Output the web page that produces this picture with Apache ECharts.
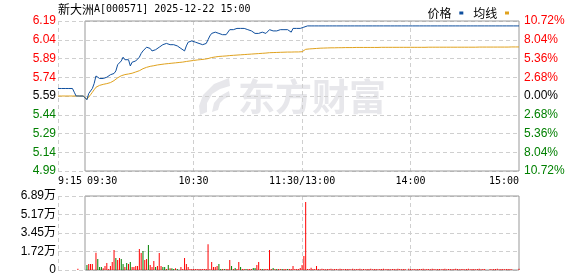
<!DOCTYPE html>
<html>
<head>
<meta charset="utf-8">
<script src="https://cdn.jsdelivr.net/npm/echarts@6/dist/echarts.min.js"></script>
<style>
html,body{margin:0;padding:0;background:#fff;}
#c{width:578px;height:276px;}
</style>
</head>
<body>
<div id="c"></div>
<script>
// ---------------- data ----------------
const titleName = '新大洲';
const titleRest = 'A[000571] 2025-12-22 15:00';
const prevClose = 5.59;

// minute price, index 0 = 9:15 ... 15 = 9:30 ... 135 = 11:30/13:00 ... 255 = 15:00
const prices = [
  5.65,5.65,5.65,5.65,5.65,5.65,5.65,5.65,5.65,5.62,
  5.59,5.59,5.59,5.59,5.59,5.59,5.56,5.61,5.62,5.65,
  5.69,5.75,5.74,5.73,5.72,5.73,5.74,5.74,5.75,5.76,
  5.75,5.77,5.79,5.84,5.83,5.87,5.90,5.88,5.89,5.88,
  5.83,5.86,5.87,5.87,5.88,5.90,5.93,5.95,5.96,5.98,
  5.98,5.97,5.95,5.96,5.96,5.97,5.98,5.99,6.00,6.01,
  6.01,6.00,6.00,6.01,6.00,6.00,5.99,5.98,5.97,5.96,
  5.95,5.99,6.02,6.03,6.03,6.02,6.02,6.03,6.01,6.00,
  6.00,6.01,6.01,6.04,6.07,6.09,6.09,6.10,6.11,6.09,
  6.09,6.08,6.07,6.08,6.09,6.12,6.12,6.12,6.13,6.13,
  6.14,6.13,6.13,6.13,6.13,6.12,6.12,6.11,6.10,6.09,
  6.08,6.09,6.10,6.10,6.10,6.09,6.10,6.12,6.13,6.11,
  6.11,6.11,6.12,6.12,6.13,6.12,6.11,6.12,6.12,6.10,
  6.13,6.13,6.13,6.13,6.13,6.13,6.14,6.15,6.15,6.15,
  6.15,6.15,6.15,6.15,6.15,6.15,6.15,6.15,6.15,6.15,
  6.15,6.15,6.15,6.15,6.15,6.15,6.15,6.15,6.15,6.15,
  6.15,6.15,6.15,6.15,6.15,6.15,6.15,6.15,6.15,6.15,
  6.15,6.15,6.15,6.15,6.15,6.15,6.15,6.15,6.15,6.15,
  6.15,6.15,6.15,6.15,6.15,6.15,6.15,6.15,6.15,6.15,
  6.15,6.15,6.15,6.15,6.15,6.15,6.15,6.15,6.15,6.15,
  6.15,6.15,6.15,6.15,6.15,6.15,6.15,6.15,6.15,6.15,
  6.15,6.15,6.15,6.15,6.15,6.15,6.15,6.15,6.15,6.15,
  6.15,6.15,6.15,6.15,6.15,6.15,6.15,6.15,6.15,6.15,
  6.15,6.15,6.15,6.15,6.15,6.15,6.15,6.15,6.15,6.15,
  6.15,6.15,6.15,6.15,6.15,6.15,6.15,6.15,6.15,6.15,
  6.15,6.15,6.15,6.15,6.15,6.15
];

const avgPrices = [
  5.59,5.59,5.59,5.59,5.59,5.59,5.59,5.59,5.59,5.59,
  5.59,5.59,5.59,5.59,5.59,5.59,5.565,5.58,5.60,5.62,
  5.64,5.66,5.67,5.675,5.68,5.683,5.686,5.689,5.692,5.697,
  5.705,5.713,5.72,5.735,5.745,5.752,5.757,5.761,5.764,5.766,
  5.768,5.772,5.777,5.782,5.786,5.792,5.80,5.808,5.814,5.819,
  5.824,5.827,5.83,5.832,5.835,5.838,5.84,5.842,5.844,5.846,
  5.848,5.849,5.851,5.852,5.854,5.855,5.857,5.858,5.859,5.861,
  5.863,5.866,5.868,5.87,5.872,5.874,5.876,5.878,5.879,5.881,
  5.882,5.884,5.885,5.889,5.893,5.897,5.90,5.902,5.904,5.906,
  5.907,5.908,5.909,5.91,5.911,5.913,5.914,5.915,5.916,5.917,
  5.918,5.919,5.92,5.921,5.922,5.923,5.924,5.925,5.926,5.927,
  5.928,5.929,5.93,5.931,5.932,5.933,5.934,5.936,5.937,5.937,
  5.938,5.938,5.939,5.939,5.94,5.94,5.941,5.941,5.941,5.941,
  5.942,5.942,5.942,5.942,5.943,5.944,5.95,5.963,5.965,5.966,
  5.967,5.968,5.969,5.970,5.971,5.972,5.973,5.973,5.974,5.974,
  5.974,5.975,5.975,5.975,5.976,5.976,5.976,5.976,5.977,5.977,
  5.977,5.977,5.977,5.977,5.978,5.978,5.978,5.978,5.978,5.978,
  5.978,5.978,5.978,5.978,5.978,5.978,5.978,5.978,5.979,5.979,
  5.979,5.979,5.979,5.979,5.979,5.979,5.979,5.979,5.979,5.979,
  5.979,5.979,5.979,5.979,5.979,5.979,5.979,5.979,5.979,5.979,
  5.979,5.979,5.979,5.979,5.979,5.980,5.980,5.980,5.980,5.980,
  5.980,5.980,5.980,5.980,5.980,5.980,5.980,5.980,5.980,5.980,
  5.980,5.980,5.980,5.980,5.980,5.980,5.980,5.980,5.980,5.980,
  5.980,5.980,5.981,5.981,5.981,5.981,5.981,5.981,5.981,5.981,
  5.981,5.981,5.981,5.981,5.981,5.981,5.981,5.981,5.981,5.981,
  5.982,5.982,5.982,5.982,5.982,5.982
];

// minute volume (shares)
const volumes = [
  0,0,0,0,0,0,0,0,0,0,
  0,1200,0,0,0,0,4650,5600,5600,5600,
  0,16100,10200,2800,2800,1600,3700,6500,930,3700,
  7400,18600,11200,9300,11200,10200,5600,2800,6500,5600,
  7400,2800,2800,3700,3700,19600,15800,17700,9300,10200,
  23300,4650,2800,8400,2800,3700,15800,3700,2800,2800,
  930,4650,1600,1600,930,1600,930,0,2800,930,
  11200,5600,2800,930,930,930,930,930,930,930,
  930,930,930,24000,800,7400,2800,2800,3700,5600,
  900,900,900,900,900,9300,3700,900,1900,900,
  7400,2800,900,900,900,900,900,900,1900,1900,
  4650,7400,900,900,900,900,900,18600,900,1900,
  900,900,900,900,900,900,900,900,900,900,
  3700,900,900,900,1900,4650,13000,63300,900,900,
  2200,900,900,3700,1000,800,1100,900,700,1000,
  900,1200,800,1000,900,700,1100,900,800,1000,
  1000,900,700,1100,800,900,1000,1200,800,900,
  700,1000,900,1100,800,1000,900,700,1000,900,
  1100,800,900,1000,700,900,1000,800,1100,900,
  800,1000,900,0,1100,900,800,1000,700,900,
  1000,900,1200,800,900,1000,700,1100,900,800,
  1000,900,800,1000,1100,700,900,1000,800,900,
  1100,900,800,1000,900,700,1000,1200,800,900,
  1000,800,900,1100,700,900,1000,0,0,900,
  800,1000,900,1100,700,900,1000,800,900,1000,
  900,800,0,0,0,1200
];
// minutes whose volume bar is green (down)
const greenBars = [16,22,23,24,32,35,36,38,40,47,50,54,58,59,61,63,64,66,89,90,92,96,98,101,104,108,109,113,119,121,124,127];

// tick labels
const priceLabels = ['4.99','5.14','5.29','5.44','5.59','5.74','5.89','6.04','6.19'];
const pctLabels = ['10.72%','8.04%','5.36%','2.68%','0.00%','2.68%','5.36%','8.04%','10.72%'];
const volLabels = ['0','1.72万','3.45万','5.17万','6.89万'];
const timeTickIdx = [0, 15, 75, 135, 195, 255];
const timeTickText = ['9:15', '09:30', '10:30', '11:30/13:00', '14:00', '15:00'];
const legendNames = ['价格', '均线'];

// ---------------- build ----------------
const categories = [];
for (let i = 0; i < 256; i++) {
  let h, m;
  if (i <= 15) { h = 9; m = 15 + i; }
  else if (i <= 135) { const t = 9 * 60 + 30 + (i - 15); h = Math.floor(t / 60); m = t % 60; }
  else { const t = 13 * 60 + (i - 135); h = Math.floor(t / 60); m = t % 60; }
  categories.push(h + ':' + (m < 10 ? '0' + m : m));
}
const toPct = p => (p / prevClose - 1) * 100;
const RED = '#ff0000', GREEN = '#008000', BLACK = '#000000';
const PMAX = 10.72, PINT = 2.68;
const VMAX = 68900, VINT = 17225;
const dash = { color: '#cfcfcf', type: [4, 3], width: 1 };
const labelFont = "'Liberation Sans', 'Noto Sans CJK SC', sans-serif";
const monoFont = "'DejaVu Sans Mono', monospace";
const timeLabel = (idx) => { const k = timeTickIdx.indexOf(idx); return k >= 0 ? timeTickText[k] : ''; };
const pctColor = (v) => { v = parseFloat(v); return v > 0.01 ? RED : (v < -0.01 ? GREEN : BLACK); };
const pIdx = (v) => Math.round((parseFloat(v) + PMAX) / PINT);

const L = 58, R = 59, LB = 85;

const catAxis = (grid, extra) => Object.assign({
  type: 'category', gridIndex: grid, position: 'bottom', data: categories, boundaryGap: false,
  axisLine: { show: false }, axisTick: { show: false },
  axisLabel: { show: false }, splitLine: { show: false }
}, extra);
const hiddenAxis = (grid) => ({ type: 'value', gridIndex: grid, show: false, min: 0, max: 1, splitLine: { show: false } });

const labelStyle = (idxList, align, pad) => ({
  show: true, interval: (i) => idxList.indexOf(i) >= 0, align: align,
  padding: pad || 0,
  formatter: (v, i) => timeLabel(i), fontFamily: monoFont, fontSize: 10, color: BLACK, margin: 5
});

const volData = volumes.map((v, i) => ({
  value: v === 0 ? '-' : v,
  itemStyle: { color: greenBars.indexOf(i) >= 0 ? GREEN : RED }
}));

const option = {
  animation: false,
  backgroundColor: '#ffffff',
  title: {
    left: L, top: 1, padding: 0,
    text: '{c|' + titleName + '}{m|' + titleRest + '}',
    textStyle: {
      rich: {
        c: { fontFamily: "'Noto Sans CJK SC'", fontSize: 12, fontWeight: 'normal', color: BLACK, lineHeight: 16 },
        m: { fontFamily: monoFont, fontSize: 10, fontWeight: 'normal', color: BLACK, lineHeight: 16 }
      }
    }
  },
  legend: {
    data: legendNames, right: 64, top: 2, align: 'right', icon: 'rect',
    itemWidth: 4, itemHeight: 3, itemGap: 10,
    formatter: (n) => n + ' ',
    textStyle: { fontFamily: "'Noto Sans CJK SC'", fontSize: 12, color: BLACK }
  },
  graphic: [
    { type: 'text', z: -1, silent: true, style: { x: 238, y: 97, text: '东方财富', fill: '#e7e7eb',
      font: "bold 37px 'Noto Sans CJK SC'", verticalAlign: 'middle' } },
    { type: 'polygon', z: -1, silent: true,
      shape: { points: [[229,78],[214,84],[203,95],[199,106],[200,115],[207,112],[207,103],[212,94],[220,89],[230,86]] },
      style: { fill: '#e7e7eb' } },
    { type: 'polygon', z: -1, silent: true,
      shape: { points: [[229,91],[220,96],[214,103],[212,112],[218,110],[220,103],[224,99],[230,96]] },
      style: { fill: '#e7e7eb' } }
  ],
  grid: [
    { left: L, right: R, top: 21, height: 150 },
    { left: LB, right: R, top: 21, height: 150, show: true, borderColor: '#999999', borderWidth: 1, backgroundColor: 'transparent', z: 1 },
    { left: L, right: R, top: 196, height: 74 },
    { left: LB, right: R, top: 196, height: 74, show: true, borderColor: '#999999', borderWidth: 1, backgroundColor: 'transparent', z: 1 }
  ],
  xAxis: [
    catAxis(0, { splitLine: { show: true, interval: (i) => [0, 75, 135, 195].indexOf(i) >= 0, lineStyle: dash },
      axisLabel: labelStyle([0], 'left') }),
    catAxis(0, { axisLabel: labelStyle([75, 135, 195], 'center') }),
    catAxis(0, { axisLabel: labelStyle([255], 'right') }),
    hiddenAxis(1),
    catAxis(2, { splitLine: { show: true, interval: (i) => [0, 75, 135, 195].indexOf(i) >= 0, lineStyle: dash } }),
    hiddenAxis(3),
    catAxis(0, { axisLabel: labelStyle([15], 'left', [0, 0, 0, 2]) })
  ],
  yAxis: [
    { type: 'value', gridIndex: 0, position: 'left', min: -PMAX, max: PMAX, interval: PINT,
      axisLine: { show: false }, axisTick: { show: false },
      splitLine: { show: true, lineStyle: dash },
      axisLabel: { margin: 2, fontFamily: labelFont, fontSize: 12,
        formatter: (v) => priceLabels[pIdx(v)], color: pctColor } },
    { type: 'value', gridIndex: 0, position: 'right', min: -PMAX, max: PMAX, interval: PINT,
      axisLine: { show: false }, axisTick: { show: false }, splitLine: { show: false },
      axisLabel: { margin: 5, fontFamily: labelFont, fontSize: 12,
        formatter: (v) => pctLabels[pIdx(v)], color: pctColor } },
    hiddenAxis(1),
    { type: 'value', gridIndex: 2, position: 'left', min: 0, max: VMAX, interval: VINT,
      axisLine: { show: false }, axisTick: { show: false },
      splitLine: { show: true, lineStyle: dash },
      axisLabel: { margin: 2, fontFamily: labelFont, fontSize: 12, color: BLACK,
        formatter: (v) => volLabels[Math.round(v / VINT)] } },
    hiddenAxis(3)
  ],
  series: [
    { name: '均线', type: 'line', xAxisIndex: 0, yAxisIndex: 0, data: avgPrices.map(toPct),
      symbol: 'none', z: 3, lineStyle: { color: '#e0a21e', width: 1 }, itemStyle: { color: '#e0a21e' } },
    { name: '价格', type: 'line', xAxisIndex: 0, yAxisIndex: 0, data: prices.map(toPct),
      symbol: 'none', z: 4, lineStyle: { color: '#0f4f9e', width: 1 }, itemStyle: { color: '#0f4f9e' } },
    { name: '成交量', type: 'bar', xAxisIndex: 4, yAxisIndex: 3,
      data: volData, barWidth: 1, z: 3 }
  ]
};

const chart = echarts.init(document.getElementById('c'), null, { renderer: 'canvas' });
chart.setOption(option);
</script>
</body>
</html>
